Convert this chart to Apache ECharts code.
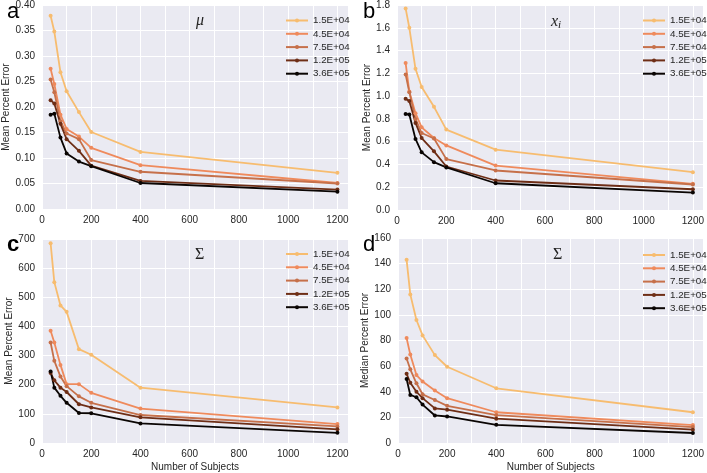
<!DOCTYPE html>
<html><head><meta charset="utf-8">
<script src="https://cdn.jsdelivr.net/npm/echarts@6/dist/echarts.min.js"></script>
<style>html,body{margin:0;padding:0;background:#fff}#c{width:707px;height:473px}</style>
</head><body><div id="c"></div>
<script>
const subjects = [35, 50, 75, 100, 150, 200, 400, 1200];
const levels = ['1.5E+04', '4.5E+04', '7.5E+04', '1.2E+05', '3.6E+05'];
const colors = ['#F7BC6F', '#EF8A5C', '#C6704A', '#6E2E16', '#0A0503'];

// Panel a: mu, mean percent error
const muL1 = [0.379, 0.348, 0.268, 0.231, 0.190, 0.151, 0.112, 0.071];
const muL2 = [0.275, 0.245, 0.185, 0.157, 0.142, 0.120, 0.086, 0.051];
const muL3 = [0.254, 0.229, 0.172, 0.148, 0.137, 0.096, 0.073, 0.050];
const muL4 = [0.213, 0.207, 0.167, 0.137, 0.114, 0.085, 0.055, 0.038];
const muL5 = [0.185, 0.187, 0.140, 0.109, 0.093, 0.084, 0.051, 0.034];
// Panel b: x_i, mean percent error
const xiL1 = [1.77, 1.60, 1.24, 1.08, 0.906, 0.706, 0.530, 0.332];
const xiL2 = [1.29, 1.04, 0.85, 0.726, 0.632, 0.567, 0.390, 0.230];
const xiL3 = [1.19, 1.035, 0.80, 0.676, 0.628, 0.447, 0.347, 0.224];
const xiL4 = [0.976, 0.956, 0.765, 0.632, 0.515, 0.382, 0.259, 0.182];
const xiL5 = [0.844, 0.838, 0.624, 0.506, 0.420, 0.374, 0.235, 0.153];
// Panel c: Sigma, mean percent error
const sgL1 = [685, 552, 472, 450, 322, 303, 190, 122];
const sgL2 = [385, 345, 268, 202, 202, 172, 118, 65];
const sgL3 = [345, 282, 228, 195, 160, 138, 96, 57];
const sgL4 = [240, 215, 190, 175, 133, 122, 88, 47];
const sgL5 = [245, 190, 162, 138, 103, 102, 67, 35];
// Panel d: Sigma, median percent error
const sdL1 = [143, 116, 96, 84, 68.6, 59.5, 42.7, 24];
const sdL2 = [82, 69, 53, 48, 41, 35, 24, 14];
const sdL3 = [66, 57.5, 46.6, 38, 33.6, 29, 21.7, 12.4];
const sdL4 = [54, 47, 40, 35, 27, 26, 19, 10.4];
const sdL5 = [50, 37.5, 35.7, 30, 21.5, 20.7, 14.2, 7.8];

const panels = [
  {vals: [muL1, muL2, muL3, muL4, muL5], yMax: 0.40, yInt: 0.05, dec: 2, yName: 'Mean Percent Error'},
  {vals: [xiL1, xiL2, xiL3, xiL4, xiL5], yMax: 1.8, yInt: 0.2, dec: 1, yName: 'Mean Percent Error'},
  {vals: [sgL1, sgL2, sgL3, sgL4, sgL5], yMax: 700, yInt: 100, dec: 0, yName: 'Mean Percent Error'},
  {vals: [sdL1, sdL2, sdL3, sdL4, sdL5], yMax: 160, yInt: 20, dec: 0, yName: 'Median Percent Error'}
];
const grids = [
  {left: 42, top: 5, width: 306, height: 204},
  {left: 397, top: 5, width: 309, height: 205},
  {left: 42, top: 239, width: 306, height: 204},
  {left: 398, top: 238, width: 308, height: 205}
];
const font = 'Liberation Sans, Arial, sans-serif';
const labelColor = '#262626';

const option = {
  animation: false,
  grid: grids.map(g => Object.assign({show: true, backgroundColor: '#EAEAF2', borderWidth: 0}, g)),
  xAxis: grids.map((g, i) => ({
    type: 'value', gridIndex: i, min: 0, max: 1243, interval: 100,
    axisLine: {show: false}, axisTick: {show: false},
    splitLine: {show: true, lineStyle: {color: '#fff', width: 1}},
    axisLabel: {color: labelColor, fontSize: 10, fontFamily: font, margin: 6, showMaxLabel: false,
      formatter: v => (v % 200 === 0 ? String(v) : '')},
    name: i >= 2 ? 'Number of Subjects' : '', nameLocation: 'middle', nameGap: 19,
    nameTextStyle: {color: labelColor, fontSize: 10, fontFamily: font}
  })),
  yAxis: panels.map((p, i) => ({
    type: 'value', gridIndex: i, min: 0, max: p.yMax, interval: p.yInt,
    axisLine: {show: false}, axisTick: {show: false},
    splitLine: {show: true, lineStyle: {color: '#fff', width: 1}},
    axisLabel: {color: labelColor, fontSize: 10, fontFamily: font, margin: 7,
      formatter: v => v.toFixed(p.dec)},
    name: p.yName, nameLocation: 'middle', nameRotate: 90, nameGap: i % 2 === 0 ? 25 : 22,
    nameTextStyle: {color: labelColor, fontSize: 10, fontFamily: font}
  })),
  legend: [
    {left: 280, top: 10.5},
    {left: 637, top: 10.5},
    {left: 280, top: 244},
    {left: 637, top: 245}
  ].map(l => Object.assign({
    orient: 'vertical', data: levels, itemWidth: 22, itemHeight: 5, itemGap: 3.3,
    textStyle: {color: labelColor, fontSize: 9.8, fontFamily: font, lineHeight: 10},
    selectedMode: false
  }, l)),
  title: [
    {text: 'a', left: 2, top: -4, textStyle: {fontSize: 22, fontWeight: 'normal', fontFamily: font, color: '#000'}},
    {text: 'b', left: 358, top: -4, textStyle: {fontSize: 22, fontWeight: 'normal', fontFamily: font, color: '#000'}},
    {text: 'c', left: 2, top: 229, textStyle: {fontSize: 22, fontWeight: 'bold', fontFamily: font, color: '#000'}},
    {text: 'd', left: 358, top: 229, textStyle: {fontSize: 22, fontWeight: 'normal', fontFamily: font, color: '#000'}},
    {text: 'μ', left: 191, top: 8, textStyle: {fontSize: 16, fontStyle: 'italic', fontWeight: 'normal', fontFamily: 'Liberation Serif', color: '#222'}},
    {text: '{x|x}{i|i}', left: 546, top: 8, textStyle: {rich: {
      x: {fontSize: 16, fontStyle: 'italic', fontWeight: 'normal', fontFamily: 'Liberation Serif', color: '#222'},
      i: {fontSize: 11, fontStyle: 'italic', fontWeight: 'normal', fontFamily: 'Liberation Serif', color: '#222', padding: [7, 0, 0, 0]}}}},
    {text: 'Σ', left: 190, top: 242, textStyle: {fontSize: 16, fontWeight: 'normal', fontFamily: 'Liberation Serif', color: '#222'}},
    {text: 'Σ', left: 548, top: 242, textStyle: {fontSize: 16, fontWeight: 'normal', fontFamily: 'Liberation Serif', color: '#222'}}
  ],
  series: []
};

panels.forEach((p, i) => {
  p.vals.forEach((vals, j) => {
    option.series.push({
      type: 'line', name: levels[j], xAxisIndex: i, yAxisIndex: i,
      data: subjects.map((x, k) => [x, vals[k]]),
      symbol: 'circle', symbolSize: 4, showSymbol: true,
      lineStyle: {width: 1.8, color: colors[j]},
      itemStyle: {color: colors[j]},
      emphasis: {disabled: true}
    });
  });
});

const chart = echarts.init(document.getElementById('c'), null, {renderer: 'canvas'});
chart.setOption(option);
</script></body></html>
